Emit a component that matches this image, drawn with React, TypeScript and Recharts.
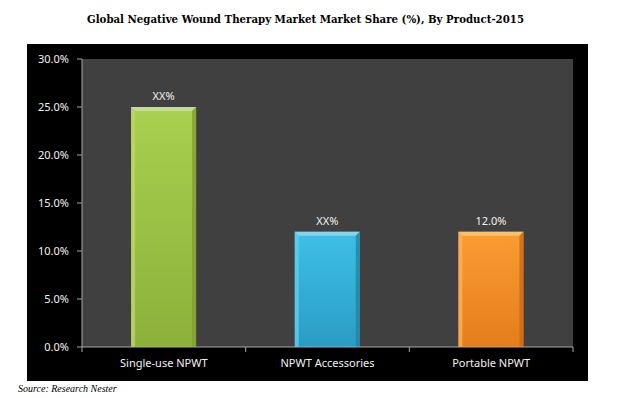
import { BarChart, Bar, XAxis, YAxis, CartesianGrid, Cell, LabelList } from "recharts";

const products = ["Single-use NPWT", "NPWT Accessories", "Portable NPWT"];
const shares = [25, 12, 12];
const shareLabels = ["XX%", "XX%", "12.0%"];
const yTicks = [0, 5, 10, 15, 20, 25, 30];

const palette = [
  { id: "green", top: "#c3e07e", light: "#a9d04f", dark: "#8cb03a", edge: "#b6d86a", side: "#7f9f33" },
  { id: "blue", top: "#7fd8f0", light: "#3ec0e6", dark: "#2a9cc4", edge: "#62cdea", side: "#24839f" },
  { id: "orange", top: "#ffc06a", light: "#fb9c32", dark: "#e47d1c", edge: "#fdb25a", side: "#c96a14" },
];

const chartData = products.map((name, i) => ({ name, share: shares[i], label: shareLabels[i] }));

const AXIS_GRAY = "#a6a6a6";
const TICK_SIZE = 5;
const TICK_MARGIN = 7;

function BevelBar(props: any) {
  const { x, y, width, height, index } = props;
  if (!height || height <= 0) return null;
  const c = palette[index % palette.length];
  const b = 4;
  return (
    <g>
      <rect x={x} y={y} width={width} height={height} fill={`url(#body-${c.id})`} />
      <polygon
        points={`${x},${y} ${x + width},${y} ${x + width - b},${y + b} ${x + b},${y + b}`}
        fill={c.top}
      />
      <polygon
        points={`${x},${y} ${x + b},${y + b} ${x + b},${y + height} ${x},${y + height}`}
        fill={c.edge}
        opacity={0.8}
      />
      <polygon
        points={`${x + width},${y} ${x + width - b},${y + b} ${x + width - b},${y + height} ${x + width},${y + height}`}
        fill={c.side}
        opacity={0.8}
      />
    </g>
  );
}

function CategoryTick(props: any) {
  const { x, y, payload, index } = props;
  const half = payload && payload.offset ? payload.offset : 81.8;
  const axisY = y - TICK_SIZE - TICK_MARGIN;
  return (
    <g>
      {index === 0 && (
        <line x1={x - half} x2={x - half} y1={axisY} y2={axisY + TICK_SIZE} stroke={AXIS_GRAY} />
      )}
      <line x1={x + half} x2={x + half} y1={axisY} y2={axisY + TICK_SIZE} stroke={AXIS_GRAY} />
      <text x={x} y={y} dy="0.71em" textAnchor="middle" fill="#f2f2f2" fontSize={11} fontFamily="'Noto Sans', sans-serif">
        {payload.value}
      </text>
    </g>
  );
}

export default function App() {
  return (
    <div style={{ position: "absolute", left: 0, top: 0, width: 621, height: 398, background: "#ffffff" }}>
      <svg width={621} height={40} style={{ position: "absolute", left: 0, top: 0 }}>
        <text
          x={87}
          y={23}
          textLength={437}
          lengthAdjust="spacingAndGlyphs"
          fontFamily="'DejaVu Serif', serif"
          fontWeight="bold"
          fontSize={10.5}
          fill="#000000"
        >
          Global Negative Wound Therapy Market Market Share (%), By Product-2015
        </text>
      </svg>
      <div style={{ position: "absolute", left: 27, top: 44 }}>
        <BarChart
          width={561}
          height={337}
          data={chartData}
          margin={{ top: 15, right: 15, bottom: 4, left: 0 }}
          barCategoryGap="30%"
          style={{ background: "#000000" }}
        >
          <defs>
            {palette.map((c) => (
              <linearGradient key={c.id} id={`body-${c.id}`} x1="0" y1="0" x2="0" y2="1">
                <stop offset="0%" stopColor={c.light} />
                <stop offset="100%" stopColor={c.dark} />
              </linearGradient>
            ))}
          </defs>
          <CartesianGrid fill="#404040" horizontal={false} vertical={false} stroke="none" />
          <XAxis
            dataKey="name"
            height={30}
            axisLine={{ stroke: AXIS_GRAY }}
            tickLine={false}
            tickSize={TICK_SIZE}
            tickMargin={TICK_MARGIN}
            tick={<CategoryTick />}
            interval={0}
          />
          <YAxis
            width={55}
            domain={[0, 30]}
            ticks={yTicks}
            interval={0}
            axisLine={{ stroke: AXIS_GRAY }}
            tickLine={{ stroke: AXIS_GRAY }}
            tickSize={5}
            tickMargin={8}
            tickFormatter={(v: number) => `${v.toFixed(1)}%`}
            tick={{ fill: "#f2f2f2", fontSize: 11, fontFamily: "'Noto Sans', sans-serif" }}
          />
          <Bar dataKey="share" isAnimationActive={false} shape={<BevelBar />}>
            {chartData.map((d, i) => (
              <Cell key={d.name} fill={palette[i].light} />
            ))}
            <LabelList
              dataKey="label"
              position="top"
              offset={7}
              fill="#f2f2f2"
              fontSize={11}
              fontFamily="'Noto Sans', sans-serif"
            />
          </Bar>
        </BarChart>
      </div>
      <svg width={200} height={20} style={{ position: "absolute", left: 0, top: 380 }}>
        <text
          x={18}
          y={12}
          fontFamily="'Liberation Serif', serif"
          fontStyle="italic"
          fontSize={10}
          fill="#000000"
        >
          Source: Research Nester
        </text>
      </svg>
    </div>
  );
}
